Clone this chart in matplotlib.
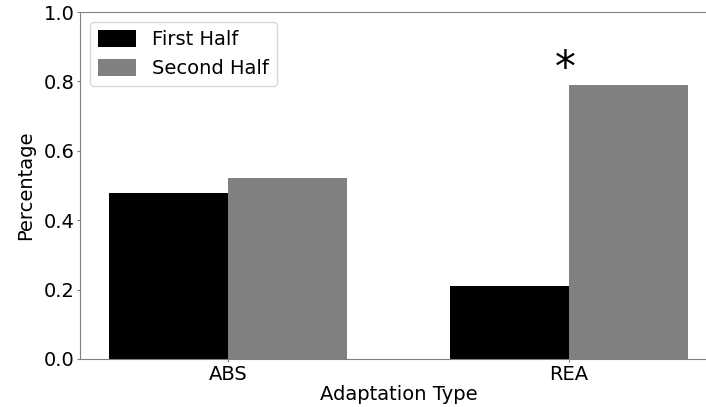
import numpy as np
import matplotlib.pyplot as plt

# adaptation types and mean share per half
types = ['ABS', 'REA']
first_half = [0.478, 0.21]
second_half = [0.522, 0.79]
star_y = 0.835

x = np.arange(len(types))
width = 0.35

fig = plt.figure(figsize=(7.06, 4.07), dpi=100)
ax = fig.add_axes([80/706, 48/407, 637/706, 347/407])

ax.bar(x - width/2, first_half, width, color='black', label='First Half')
ax.bar(x + width/2, second_half, width, color='grey', label='Second Half')

# significance marker over REA second half
ax.text(x[1] - 0.01, star_y, '*', fontsize=30, ha='center', va='center')

ax.set_xlim(-0.435, 1.435)
ax.set_ylim(0, 1.0)
ax.set_xticks(x)
ax.set_xticklabels(types)
ax.set_yticks(np.arange(0, 1.01, 0.2))
ax.tick_params(labelsize=14, color='grey', length=2, pad=2)
ax.set_xlabel('Adaptation Type', fontsize=14, labelpad=1)
ax.set_ylabel('Percentage', fontsize=14, labelpad=6)
for s in ax.spines.values():
    s.set_color('grey')
ax.spines['right'].set_visible(False)

ax.legend(loc='upper left', fontsize=14, handleheight=1.0)

fig.savefig('out.png', dpi=100)
